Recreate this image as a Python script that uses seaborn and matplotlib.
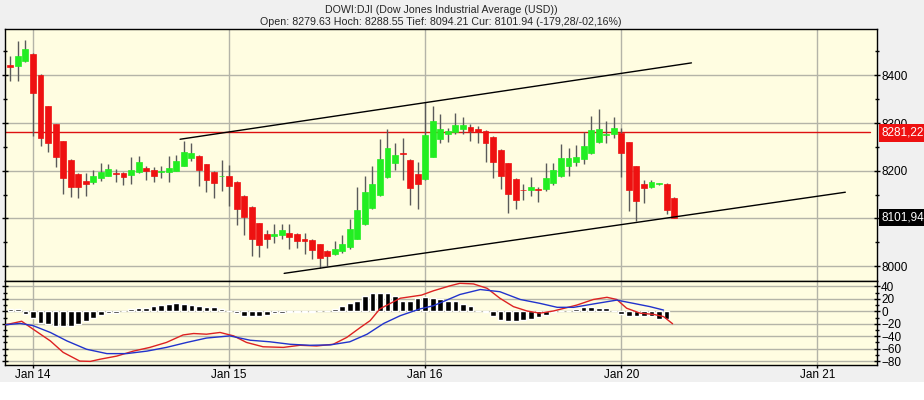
import matplotlib
matplotlib.use("Agg")
import matplotlib.pyplot as plt
import matplotlib.transforms as mtransforms
from matplotlib.patches import Rectangle
import seaborn as sns

# bar index: 0 = first 15 min bar of Jan 14, 26 bars per session
bar_idx = list(range(-3, 86))

opens = [8421, 8419, 8430, 8444, 8401, 8335, 8297, 8262, 8223, 8194,
         8179, 8176, 8184, 8190, 8194, 8195, 8191, 8197, 8206, 8201,
         8197, 8197, 8200, 8211, 8226, 8231, 8214, 8198, 8188, 8188,
         8177, 8148, 8125, 8090, 8067, 8063, 8065, 8069, 8067, 8058,
         8055, 8046, 8031, 8026, 8031, 8040, 8058, 8088, 8121, 8149,
         8186, 8217, 8237, 8223, 8194, 8183, 8229, 8267, 8278, 8282,
         8288, 8292, 8288, 8283, 8271, 8244, 8216, 8183, 8160, 8159,
         8162, 8162, 8174, 8188, 8210, 8219, 8224, 8237, 8261, 8275,
         8278, 8280, 8260, 8210, 8173, 8167, 8172, 8173, 8143]
highs = [8440, 8471, 8475, 8446, 8402, 8336, 8298, 8263, 8224, 8195,
         8195, 8201, 8216, 8215, 8203, 8197, 8228, 8231, 8211, 8207,
         8209, 8231, 8233, 8262, 8258, 8232, 8215, 8199, 8223, 8213,
         8178, 8149, 8126, 8091, 8075, 8089, 8089, 8089, 8069, 8069,
         8056, 8047, 8034, 8052, 8065, 8098, 8165, 8190, 8211, 8267,
         8288, 8259, 8269, 8224, 8219, 8344, 8335, 8319, 8290, 8320,
         8312, 8297, 8294, 8285, 8272, 8245, 8217, 8184, 8173, 8187,
         8167, 8217, 8216, 8256, 8247, 8253, 8282, 8315, 8329, 8305,
         8312, 8289, 8261, 8211, 8181, 8181, 8174, 8174, 8144]
lows = [8388, 8388, 8428, 8272, 8251, 8240, 8208, 8151, 8145, 8143,
        8147, 8173, 8178, 8190, 8176, 8171, 8173, 8196, 8180, 8176,
        8185, 8176, 8199, 8209, 8221, 8169, 8155, 8143, 8157, 8127,
        8086, 8065, 8022, 8019, 8039, 8049, 8056, 8037, 8038, 8026,
        8015, 7997, 8001, 8024, 8028, 8037, 8056, 8087, 8119, 8147,
        8184, 8202, 8180, 8129, 8119, 8181, 8228, 8259, 8260, 8278,
        8277, 8263, 8259, 8218, 8185, 8162, 8112, 8119, 8138, 8147,
        8134, 8157, 8171, 8186, 8188, 8209, 8214, 8236, 8259, 8258,
        8268, 8187, 8115, 8094, 8133, 8163, 8171, 8110, 8100]
closes = [8418, 8440, 8456, 8362, 8269, 8259, 8228, 8184, 8165, 8165,
          8172, 8190, 8198, 8203, 8193, 8186, 8201, 8218, 8199, 8188,
          8198, 8206, 8220, 8239, 8237, 8201, 8180, 8174, 8189, 8169,
          8119, 8103, 8056, 8044, 8056, 8067, 8075, 8062, 8052, 8052,
          8035, 8017, 8022, 8035, 8047, 8077, 8117, 8155, 8173, 8225,
          8248, 8233, 8236, 8163, 8172, 8275, 8305, 8288, 8283, 8296,
          8296, 8283, 8281, 8259, 8219, 8188, 8151, 8138, 8159, 8166,
          8160, 8185, 8201, 8226, 8226, 8228, 8251, 8285, 8288, 8278,
          8289, 8238, 8160, 8136, 8163, 8176, 8173, 8117, 8102]

macd_hist = [4, 4, -5, -11, -18, -20, -24, -24, -24, -21,
             -15, -11, -6, -3, -2, 1, 4, 6, 6, 8.5,
             10.7, 12.3, 13.4, 12.3, 10, 9, 6.4, 7.5, 4.3, 0,
             -3, -8, -8, -8, -6.4, -3, -2.7, -1.6, -1.5, -1.5,
             -1.5, 0, 0, 3, 8.5, 12.8, 17, 24, 29, 30,
             30, 25, 17, 17, 22, 22.5, 21, 20, 17, 16,
             11, 9, 1, -1, -7, -14, -15, -15, -14, -13,
             -9, -6, -1, 0, 0, 4, 7, 7, 6, 6,
             0, -5, -8, -8, -8, -8, -12, -13, float("nan")]

macd_x = [-3.6, -1.5, 0.0, 2.3, 4.0, 6.2, 7.6, 8.9, 11.1, 13.3,
          15.5, 17.7, 19.9, 21.3, 23.0, 24.8, 26.6, 28.3, 30.5, 33.2,
          35.4, 37.6, 39.8, 41.6, 43.4, 44.7, 46.0, 48.7, 51.5, 53.1,
          55.3, 56.6, 58.4, 60.2, 61.9, 63.7, 65.5, 67.2, 69.0, 70.8,
          72.1, 74.3, 76.1, 77.4, 78.7, 80.5, 82.3, 83.6, 84.8]
macd_line = [-21.6, -16, -28.6, -47.6, -66, -80, -80.5, -77, -72, -64,
             -58, -50, -38, -35.7, -36.8, -34, -39.5, -50, -57, -58,
             -54.6, -55.7, -53, -42, -26, -15, 4, 21, 26, 33,
             41, 45, 44, 37, 21, 7.5, 0.5, -3, 0.5, 6,
             10, 19, 22.5, 19, 5, -3, -5, -8.5, -20]

signal_x = [-3.6, -1.7, 0.0, 2.3, 4.5, 7.1, 9.8, 12.4, 15.1, 17.7,
            20.4, 23.0, 26.1, 28.8, 31.4, 34.1, 36.7, 39.4, 42.0, 44.3,
            46.5, 48.7, 51.3, 53.1, 56.6, 59.3, 61.9, 64.6, 67.2, 69.5,
            71.7, 74.3, 77.4, 79.6, 81.8, 83.6]
signal_line = [-21.6, -19.5, -23, -34, -47.6, -61, -68, -68, -64, -58,
               -50, -43, -39.5, -46.5, -49, -53, -54.6, -54, -49, -36.8,
               -19.5, -7, 3.8, 9, 27, 35, 31.5, 19, 12.8, 6.4,
               6.4, 11.8, 18, 12.8, 7.5, 2]

day_ticks = [0, 26, 52, 78, 104]
day_labels = ["Jan 14", "Jan 15", "Jan 16", "Jan 20", "Jan 21"]

price_ticks = [8000, 8100, 8200, 8300, 8400]
price_labels = ["8000", "", "8200", "8300", "8400"]

upper_trend_x = [19.5, 87.3]
upper_trend_y = [8266, 8426]
lower_trend_x = [33.3, 107.7]
lower_trend_y = [7985, 8155]

prev_close = 8281.22
last_price = 8101.94

title_top = "DOWI:DJI (Dow Jones Industrial Average (USD))"
title_sub = "Open: 8279.63 Hoch: 8288.55 Tief: 8094.21 Cur: 8101.94 (-179,28/-02,16%)"

sns.set_style("white")
plt.rcParams["font.family"] = ["Liberation Sans", "DejaVu Sans"]

W, H = 924, 400
fig = plt.figure(figsize=(W / 100, H / 100), dpi=100, facecolor="#f0f0f0")
fig.add_artist(Rectangle((0, 0), 1, 18 / H, transform=fig.transFigure,
                         facecolor="white", edgecolor="none", zorder=0))

ax = fig.add_axes([5 / W, 119 / H, 872 / W, 252 / H])
ax2 = fig.add_axes([5 / W, 35 / H, 872 / W, 84 / H], sharex=ax)

panel_bg = "#fffde1"
grid_col = "#b4b4a8"

for a in (ax, ax2):
    a.set_facecolor(panel_bg)
    for s in a.spines.values():
        s.set_color("black")
        s.set_linewidth(1)
    a.grid(True, which="major", color=grid_col, lw=1, zorder=1)
    a.set_axisbelow(True)

# candles
up_col, down_col = "#22ee22", "#ee1111"
body_bottom = [min(o, c) for o, c in zip(opens, closes)]
body_height = [max(abs(c - o), 1.5) for o, c in zip(opens, closes)]
body_color = [up_col if c >= o else down_col for o, c in zip(opens, closes)]

ax.axhline(prev_close, xmin=0, xmax=(870 - 5) / 872, color="#dd1111", lw=1, zorder=2)
ax.vlines(bar_idx, lows, highs, color="#5a5a5a", lw=1, zorder=3)
ax.bar(bar_idx, body_height, bottom=body_bottom, width=0.78,
       color=body_color, edgecolor=body_color, linewidth=0.5, zorder=4)

ax.plot(upper_trend_x, upper_trend_y, color="black", lw=1, zorder=5)
ax.plot(lower_trend_x, lower_trend_y, color="black", lw=1, zorder=5)

ax.set_xlim(-3.71, 111.9)
ax.set_ylim(7969, 8497)
ax.set_xticks(day_ticks)
ax.set_yticks(price_ticks)
ax.set_yticklabels(price_labels)
ax.set_yticks([8050, 8150, 8250, 8350, 8450], minor=True)
ax.yaxis.tick_right()
ax.tick_params(axis="y", which="both", left=True, right=True, labelleft=False,
               labelright=True, direction="inout", length=4, width=1,
               colors="black", labelsize=8.5, pad=1)
ax.tick_params(axis="y", which="minor", length=3)
ax.tick_params(axis="x", bottom=False, labelbottom=False)

trans = mtransforms.blended_transform_factory(ax.transAxes, ax.transData)
ax.text(1.005, prev_close - 2, "8281,22", transform=trans, ha="left", va="center",
        color="white", fontsize=8.5, zorder=10, clip_on=False,
        bbox=dict(boxstyle="square,pad=0.22", facecolor="#ee1111", edgecolor="none"))
ax.text(1.005, last_price, "8101,94", transform=trans, ha="left", va="center",
        color="white", fontsize=8.5, zorder=10, clip_on=False,
        bbox=dict(boxstyle="square,pad=0.22", facecolor="black", edgecolor="none"))

# macd panel
ax2.bar(bar_idx, macd_hist, width=0.75, color="black", zorder=3)
sns.lineplot(x=macd_x, y=macd_line, ax=ax2, color="#dd2222", lw=1, zorder=4, legend=False)
sns.lineplot(x=signal_x, y=signal_line, ax=ax2, color="#2233cc", lw=1, zorder=4, legend=False)

ax2.set_ylim(-86.3, 48.7)
ax2.set_yticks([-80, -60, -40, -20, 0, 20, 40])
ax2.set_yticks([-70, -50, -30, -10, 10, 30], minor=True)
ax2.yaxis.tick_right()
ax2.tick_params(axis="y", which="both", left=True, right=True, labelleft=False,
                labelright=True, direction="inout", length=4, width=1,
                colors="black", labelsize=8.5, pad=1)
ax2.tick_params(axis="y", which="minor", length=3)
ax2.set_xticks(day_ticks)
ax2.set_xticklabels(day_labels)
ax2.tick_params(axis="x", bottom=True, direction="out", length=2, width=1,
                colors="black", labelsize=8.5, pad=1)
ax2.set_xlabel("")
ax2.set_ylabel("")

fig.text(441 / W, 1 - 10 / H, title_top, ha="center", va="center", fontsize=7.7)
fig.text(441 / W, 1 - 22 / H, title_sub, ha="center", va="center", fontsize=7.7)

fig.savefig("out.png", dpi=100, facecolor=fig.get_facecolor())
